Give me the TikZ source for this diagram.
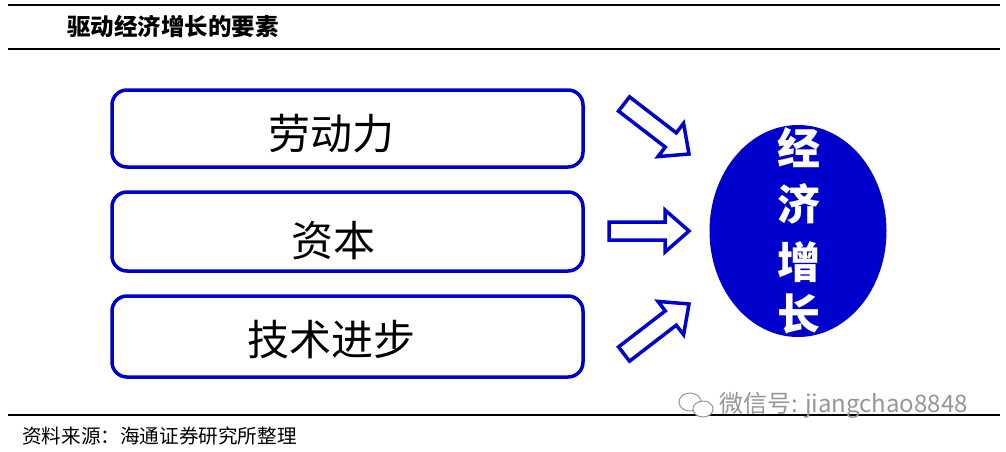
\documentclass[tikz,border=0pt]{standalone}
\usepackage{fontspec}
\newfontfamily\cjk{Noto Sans CJK SC}
\setsansfont{Liberation Sans}
\usetikzlibrary{shapes.geometric}
\definecolor{dblue}{RGB}{0,0,204}
\definecolor{wmgray}{RGB}{150,150,150}
\tikzset{
  rule/.style={line width=1.2pt, black},
  factorbox/.style={draw=dblue, line width=3.5pt, rounded corners=15pt, fill=white},
  factortext/.style={font=\cjk\fontsize{42}{42}\selectfont, inner sep=0pt},
  hollowarrow/.style={draw=dblue, line width=3.5pt, line join=miter, fill=white},
  ellchar/.style={font=\cjk\bfseries\fontsize{43}{43}\selectfont, text=white, inner sep=0pt},
}
\begin{document}
\begin{tikzpicture}[x=1pt,y=1pt]
\useasboundingbox (0,0) rectangle (1006,-451);
% rules
\coordinate (r1a) at (8,-5); \coordinate (r1b) at (1000,-5);
\coordinate (r2a) at (8,-49); \coordinate (r2b) at (1000,-49);
\coordinate (r3a) at (8,-415); \coordinate (r3b) at (1000,-415);
\draw[rule] (r1a) -- (r1b);
\draw[rule] (r2a) -- (r2b);
\draw[rule] (r3a) -- (r3b);
% title
\node[anchor=west, inner sep=0pt, font=\cjk\bfseries\fontsize{23.5}{23.5}\selectfont] (title) at (67,-27) {驱动经济增长的要素};
% boxes
\draw[factorbox] (112,-90) rectangle (583,-167);
\draw[factorbox] (112,-192) rectangle (583,-271);
\draw[factorbox] (112,-296) rectangle (583,-377);
\node[factortext] (t1) at (331,-134) {劳动力};
\node[factortext] (t2) at (333,-241) {资本};
\node[factortext] (t3) at (331,-340) {技术进步};
% arrows
\draw[hollowarrow, shift={(689,-154)}, rotate=-37.6]
  (-82,-9) -- (-23,-9) -- (-23,-21) -- (0,0) -- (-23,21) -- (-23,9) -- (-82,9) -- cycle;
\draw[hollowarrow, shift={(689,-231)}]
  (-80,-9) -- (-24,-9) -- (-24,-21) -- (0,0) -- (-24,21) -- (-24,9) -- (-80,9) -- cycle;
\draw[hollowarrow, shift={(689,-304)}, rotate=37.6]
  (-82,-9) -- (-23,-9) -- (-23,-21) -- (0,0) -- (-23,21) -- (-23,9) -- (-82,9) -- cycle;
% ellipse
\node[ellipse, fill=dblue, minimum width=177pt, minimum height=212pt, inner sep=0pt] (growth) at (798,-231) {};
\node[ellchar] (g1) at (799,-148) {经};
\node[ellchar] (g2) at (799,-204) {济};
\node[ellchar] (g3) at (799,-262) {增};
\node[ellchar] (g4) at (799,-314) {长};
% source
\node[anchor=west, inner sep=0pt, font=\cjk\fontsize{19.6}{19.6}\selectfont] (src) at (22,-436) {资料来源：海通证券研究所整理};
% watermark
\draw[wmgray, line width=1pt] (690,-402) ellipse (11pt and 9pt);
\draw[wmgray, line width=1pt, fill=white] (703,-409) ellipse (10pt and 8pt);
\node[anchor=west, inner sep=0pt, text=wmgray, font=\cjk\fontsize{24}{24}\selectfont] (wm) at (719,-405) {微信号: jiangchao8848};
\end{tikzpicture}
\end{document}
